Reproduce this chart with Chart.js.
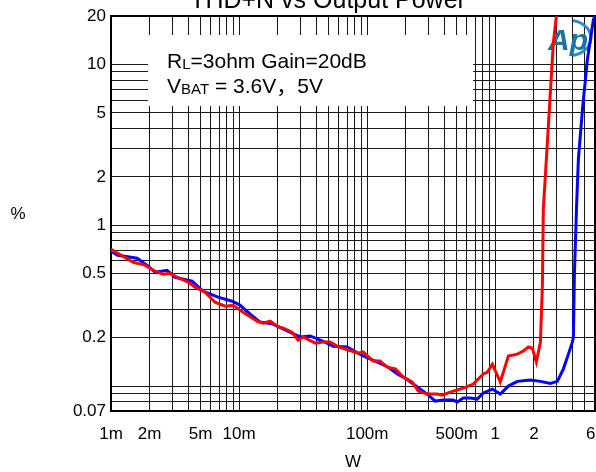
<!DOCTYPE html>
<html><head><meta charset="utf-8">
<script src="https://cdn.jsdelivr.net/npm/chart.js@4.4.0/dist/chart.umd.min.js"></script>
<style>html,body{margin:0;padding:0;background:#fff;overflow:hidden}</style>
</head><body>
<canvas id="c" width="596" height="472"></canvas>
<script>
const titleText = 'THD+N vs Output Power';
const xAxisTitle = 'W';
const yAxisTitle = '%';
const noteLine1 = ['R', 'L', '=3ohm Gain=20dB'];
const noteLine2 = ['V', 'BAT', ' = 3.6V\uFF0C5V'];

const xTickValues = [0.001, 0.002, 0.005, 0.01, 0.1, 0.5, 1, 2, 6];
const xTickText   = ['1m', '2m', '5m', '10m', '100m', '500m', '1', '2', '6\u2002'];
const yTickValues = [0.07, 0.2, 0.5, 1, 2, 5, 10, 20];
const yTickText   = ['0.07', '0.2', '0.5', '1', '2', '5', '10', '20'];

// VBAT = 3.6V (red)
const redW = [0.001,0.00113,0.00149,0.00184,0.00221,0.00255,0.00289,0.00328,0.00399,0.00453,0.00542,0.00649,0.00778,0.00898,0.01075,0.0138,0.0154,0.0175,0.0198,0.0221,0.0259,0.0289,0.0316,0.0393,0.0453,0.0514,0.0583,0.0673,0.0851,0.093,0.111,0.126,0.143,0.166,0.191,0.225,0.25,0.294,0.352,0.385,0.445,0.562,0.673,0.763,0.806,0.866,0.948,1.094,1.264,1.485,1.655,1.81,1.945,2.09,2.25,2.33,2.37,2.55,2.69,2.84,3.0];
const redPct = [0.709,0.670,0.589,0.565,0.518,0.496,0.503,0.475,0.443,0.412,0.384,0.332,0.314,0.318,0.288,0.253,0.246,0.253,0.236,0.229,0.216,0.193,0.202,0.185,0.188,0.188,0.177,0.170,0.160,0.163,0.143,0.143,0.131,0.128,0.114,0.106,0.0931,0.0892,0.0892,0.0879,0.0918,0.0972,0.103,0.114,0.119,0.122,0.137,0.106,0.154,0.158,0.165,0.175,0.172,0.141,0.188,0.418,1.257,3.28,6.70,13.7,20.1];

// VBAT = 5V (blue)
const blueW = [0.001,0.00113,0.0016,0.00195,0.00221,0.00274,0.00316,0.00429,0.00523,0.00685,0.00882,0.0102,0.0122,0.0146,0.0184,0.0237,0.030,0.0359,0.0453,0.0542,0.0698,0.0851,0.093,0.120,0.146,0.172,0.205,0.246,0.294,0.340,0.392,0.470,0.505,0.562,0.638,0.723,0.806,0.948,1.094,1.264,1.485,1.876,2.25,2.69,3.05,3.40,3.72,4.0,4.07,4.14,4.30,4.45,4.79,5.23,5.83,6.0];
const bluePct = [0.690,0.651,0.624,0.556,0.511,0.525,0.475,0.449,0.389,0.357,0.337,0.318,0.280,0.250,0.243,0.220,0.202,0.205,0.190,0.177,0.175,0.160,0.154,0.141,0.131,0.119,0.110,0.0986,0.0892,0.0807,0.0819,0.0819,0.0796,0.0842,0.0842,0.0830,0.0905,0.0958,0.0892,0.100,0.107,0.109,0.107,0.104,0.107,0.128,0.158,0.188,0.202,0.482,1.257,2.57,5.25,10.7,19.0,20.1];

const FONT = "'Liberation Sans', Arial, 'Noto Sans CJK SC', sans-serif";

function logGrid(lo, hi) {
  const out = [];
  for (let e = -4; e <= 2; e++) {
    for (let m = 1; m <= 9; m++) {
      const v = +(m * Math.pow(10, e)).toPrecision(6);
      if (v >= lo - 1e-12 && v <= hi + 1e-9) out.push(v);
    }
  }
  if (!out.some(v => Math.abs(v - lo) / lo < 1e-6)) out.unshift(lo);
  if (!out.some(v => Math.abs(v - hi) / hi < 1e-6)) out.push(hi);
  return out.sort((a, b) => a - b);
}
function labelFor(v, vals, txt) {
  for (let i = 0; i < vals.length; i++) if (Math.abs(v - vals[i]) / vals[i] < 1e-6) return txt[i];
  return '';
}
const xGrid = logGrid(0.001, 6);
const yGrid = logGrid(0.07, 20);

const deco = {
  id: 'deco',
  beforeDatasetsDraw(chart) {
    const ctx = chart.ctx, a = chart.chartArea;
    ctx.save();
    // white note box
    ctx.fillStyle = '#fff';
    ctx.fillRect(148, 35, 325, 71);
    // frame
    ctx.strokeStyle = '#000';
    ctx.lineWidth = 2;
    ctx.strokeRect(a.left, a.top, a.right - a.left, a.bottom - a.top);
    // note text
    ctx.fillStyle = '#000';
    ctx.textBaseline = 'alphabetic';
    ctx.textAlign = 'left';
    const drawSub = (parts, x, y) => {
      ctx.font = '21px ' + FONT;
      ctx.fillText(parts[0], x, y); x += ctx.measureText(parts[0]).width;
      ctx.font = '15px ' + FONT;
      ctx.fillText(parts[1], x, y + 1); x += ctx.measureText(parts[1]).width;
      ctx.font = '21px ' + FONT;
      ctx.fillText(parts[2], x, y);
    };
    drawSub(noteLine1, 167, 68);
    drawSub(noteLine2, 167, 93);
    // logo
    ctx.strokeStyle = '#2a8fc0';
    ctx.lineWidth = 3;
    ctx.beginPath();
    ctx.ellipse(568, 38, 23, 18, 0, -1.35, 1.35);
    ctx.stroke();
    ctx.fillStyle = '#1b74a6';
    ctx.font = 'italic bold 30px ' + FONT;
    ctx.fillText('Ap', 548, 50);
    ctx.restore();
  },
  afterDraw(chart) {
    const ctx = chart.ctx, a = chart.chartArea;
    ctx.save();
    ctx.fillStyle = '#000';
    ctx.textAlign = 'center';
    ctx.textBaseline = 'alphabetic';
    ctx.font = '25px ' + FONT;
    ctx.fillText(titleText, 328, 8);
    ctx.font = '17px ' + FONT;
    ctx.textBaseline = 'middle';
    ctx.fillText(xAxisTitle, (a.left + a.right) / 2, 462);
    ctx.fillText(yAxisTitle, 18, 214);
    ctx.restore();
  }
};

new Chart(document.getElementById('c'), {
  type: 'line',
  data: {
    datasets: [
      { label: '3.6V', data: redW.map((w, i) => ({ x: w, y: redPct[i] })), borderColor: '#ff0000', borderWidth: 3, pointRadius: 0, tension: 0, fill: false },
      { label: '5V', data: blueW.map((w, i) => ({ x: w, y: bluePct[i] })), borderColor: '#0000ff', borderWidth: 3, pointRadius: 0, tension: 0, fill: false }
    ]
  },
  options: {
    responsive: false,
    animation: false,
    events: [],
    layout: { padding: { left: 0, right: 1, top: 16, bottom: 0 } },
    plugins: { legend: { display: false }, title: { display: false }, tooltip: { enabled: false } },
    scales: {
      x: {
        type: 'logarithmic', min: 0.001, max: 6,
        afterBuildTicks: s => { s.ticks = xGrid.map(v => ({ value: v })); },
        afterFit: s => { s.height = 61; s.paddingLeft = 0; s.paddingRight = 0; },
        ticks: { autoSkip: false, maxRotation: 0, minRotation: 0, padding: 13, color: '#000',
          font: { family: FONT, size: 17 },
          callback: v => labelFor(v, xTickValues, xTickText) },
        grid: { color: '#1a1a1a', lineWidth: 1, drawTicks: false },
        border: { display: true, color: '#000', width: 2 }
      },
      y: {
        type: 'logarithmic', min: 0.07, max: 20,
        afterBuildTicks: s => { s.ticks = yGrid.map(v => ({ value: v })); },
        afterFit: s => { s.width = 111; s.paddingTop = 0; s.paddingBottom = 0; },
        ticks: { autoSkip: false, padding: 5, color: '#000',
          font: { family: FONT, size: 17 },
          callback: v => labelFor(v, yTickValues, yTickText) },
        grid: { color: '#1a1a1a', lineWidth: 1, drawTicks: false },
        border: { display: true, color: '#000', width: 2 }
      }
    }
  },
  plugins: [deco]
});
</script>
</body></html>
